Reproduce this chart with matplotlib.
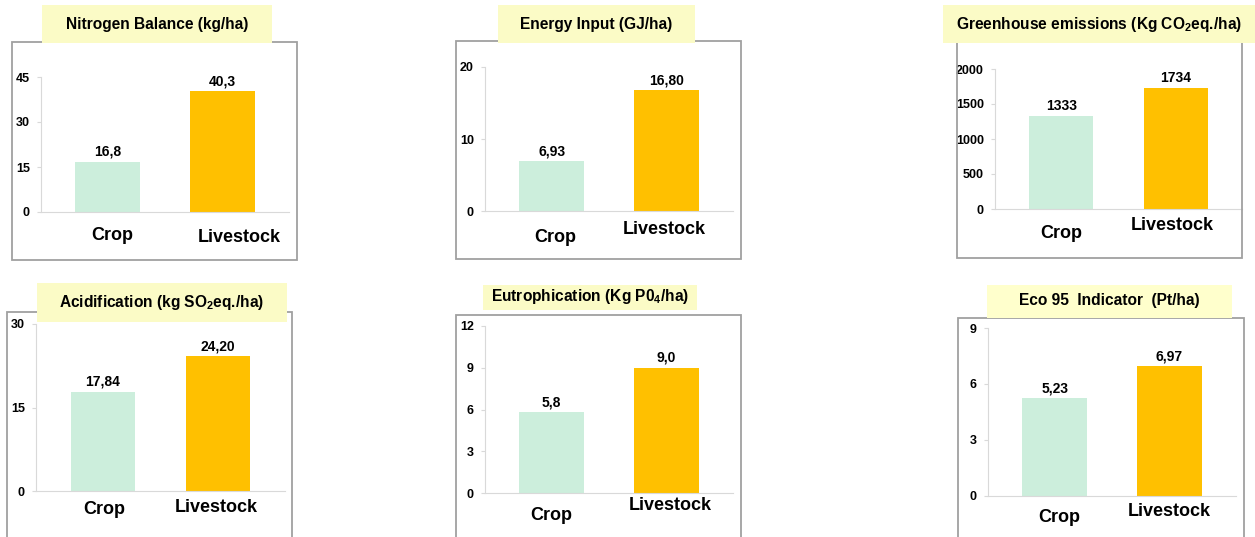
import numpy as np
import matplotlib.pyplot as plt
from matplotlib.patches import Rectangle

plt.rcParams['font.family'] = ['Liberation Sans', 'DejaVu Sans']
plt.rcParams['font.weight'] = 'bold'
plt.rcParams['mathtext.fontset'] = 'custom'
plt.rcParams['mathtext.rm'] = 'Liberation Sans:bold'
plt.rcParams['mathtext.default'] = 'rm'

categories = ["Crop", "Livestock"]
titles = [
    "Nitrogen Balance (kg/ha)",
    "Energy Input (GJ/ha)",
    r"Greenhouse emissions (Kg CO$_2$eq./ha)",
    r"Acidification (kg SO$_2$eq./ha)",
    r"Eutrophication (Kg P0$_4$/ha)",
    "Eco 95  Indicator  (Pt/ha)",
]
values = [
    [16.8, 40.3],
    [6.93, 16.80],
    [1333, 1734],
    [17.84, 24.20],
    [5.8, 9.0],
    [5.23, 6.97],
]
value_labels = [
    ["16,8", "40,3"],
    ["6,93", "16,80"],
    ["1333", "1734"],
    ["17,84", "24,20"],
    ["5,8", "9,0"],
    ["5,23", "6,97"],
]
yticks = [
    [0, 15, 30, 45],
    [0, 10, 20],
    [0, 500, 1000, 1500, 2000],
    [0, 15, 30],
    [0, 3, 6, 9, 12],
    [0, 3, 6, 9],
]

# layout in pixels: frame box, title box, title y, axes box (x0, x1, ytop, ybottom)
W, H = 1255, 537
frames = [(12, 42, 297, 260), (456, 41, 741, 259), (957, 41, 1242, 258),
          (7, 312, 292, 540), (456, 315, 741, 540), (958, 318, 1244, 540)]
title_boxes = [(42, 5, 272, 43), (498, 5, 695, 43), (943, 5, 1255, 43),
               (37, 283, 287, 322), (483, 285, 697, 310), (987, 285, 1232, 318)]
title_y = [24, 25, 24, 303, 297, 301]
title_colors = ['#FBFBC6', '#FBFBC6', '#FBFBC6', '#FBFBC6', '#FBFBC6', '#FFFFCC']
axes_px = [(41, 289, 77, 212), (485, 733, 67, 211), (995, 1242, 69, 209),
           (36, 285, 324, 491), (485, 733, 326, 493), (988, 1236, 328, 496)]
# category label positions: (data x, pixels below the axis)
cat_pos = [
    [(0.04, 23), (1.15, 25)],
    [(0.03, 26), (0.98, 18)],
    [(0.0, 24), (0.97, 17)],
    [(0.01, 19), (0.98, 16)],
    [(0.0, 22), (1.03, 12)],
    [(0.04, 21), (1.0, 15)],
]
colors = ['#CCEEDC', '#FFC000']

fig = plt.figure(figsize=(W / 100, H / 100), dpi=100)


def fx(x):
    return x / W


def fy(y):
    return 1 - y / H


for i in range(6):
    x0, y0, x1, y1 = frames[i]
    fig.patches.append(Rectangle((fx(x0), fy(y1)), fx(x1 - x0), (y1 - y0) / H,
                                 transform=fig.transFigure, fill=False,
                                 edgecolor='#A0A0A0', linewidth=1.3, zorder=1))
    tx0, ty0, tx1, ty1 = title_boxes[i]
    fig.patches.append(Rectangle((fx(tx0), fy(ty1)), fx(tx1 - tx0), (ty1 - ty0) / H,
                                 transform=fig.transFigure, facecolor=title_colors[i],
                                 edgecolor='none', zorder=2))
    fig.text(fx((tx0 + tx1) / 2), fy(title_y[i]), titles[i], ha='center', va='center',
             fontsize=11.2, fontweight='bold', zorder=3)

    ax0, ax1, atop, abot = axes_px[i]
    ax = fig.add_axes([fx(ax0), fy(abot), fx(ax1 - ax0), (abot - atop) / H])
    ax.patch.set_alpha(0)
    ax.bar([0, 1], values[i], width=0.56, color=colors, zorder=2)
    ymax = yticks[i][-1]
    ax.set_xlim(-0.58, 1.58)
    ax.set_ylim(0, ymax)
    ax.set_yticks(yticks[i])
    ax.set_yticklabels([str(t) for t in yticks[i]], fontsize=9, fontweight='bold')
    ax.set_xticks([])
    ax.spines['top'].set_visible(False)
    ax.spines['right'].set_visible(False)
    ax.spines['left'].set_color('#D9D9D9')
    ax.spines['bottom'].set_color('#D9D9D9')
    ax.tick_params(axis='y', length=3, color='#D9D9D9', pad=5)
    for j in range(2):
        ax.annotate(value_labels[i][j], (j, values[i][j]), xytext=(0, 2),
                    textcoords='offset points', ha='center', va='bottom',
                    fontsize=10, fontweight='bold')
        cx, dy = cat_pos[i][j]
        ax.annotate(categories[j], (cx, 0), xytext=(0, -dy * 0.72),
                    textcoords='offset points', ha='center', va='center',
                    fontsize=13, fontweight='bold', annotation_clip=False)

fig.savefig('out.png', dpi=100)
